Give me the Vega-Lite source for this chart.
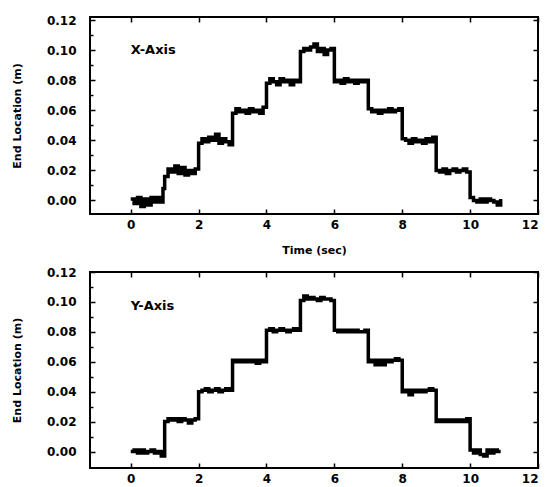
{
  "$schema": "https://vega.github.io/schema/vega-lite/v6.json",
  "padding": {"top": 13, "left": 10, "right": 5, "bottom": 0},
  "background": "white",
  "config": {
    "font": "DejaVu Sans",
    "view": {"stroke": "black", "strokeWidth": 2},
    "axis": {
      "grid": false, "domain": false,
      "labelFont": "DejaVu Sans", "labelFontWeight": "bold", "labelFontSize": 12, "labelColor": "black",
      "titleFont": "DejaVu Sans", "titleFontWeight": "bold", "titleFontSize": 11, "titleColor": "black",
      "tickColor": "black", "tickWidth": 1.5
    }
  },
  "datasets": {
    "series": [
      {"p":"X","t":0.0,"v":0.001},{"p":"X","t":0.1,"v":-0.002},{"p":"X","t":0.2,"v":0.002},{"p":"X","t":0.3,"v":-0.004},{"p":"X","t":0.4,"v":0.001},{"p":"X","t":0.5,"v":-0.003},{"p":"X","t":0.6,"v":0.002},{"p":"X","t":0.7,"v":-0.001},{"p":"X","t":0.8,"v":0.002},{"p":"X","t":0.9,"v":-0.001},{"p":"X","t":0.95,"v":0.008},
      {"p":"X","t":1.0,"v":0.016},{"p":"X","t":1.1,"v":0.021},{"p":"X","t":1.2,"v":0.019},{"p":"X","t":1.3,"v":0.023},{"p":"X","t":1.4,"v":0.018},{"p":"X","t":1.5,"v":0.022},{"p":"X","t":1.6,"v":0.017},{"p":"X","t":1.7,"v":0.020},{"p":"X","t":1.8,"v":0.018},{"p":"X","t":1.9,"v":0.021},
      {"p":"X","t":2.0,"v":0.038},{"p":"X","t":2.1,"v":0.041},{"p":"X","t":2.2,"v":0.039},{"p":"X","t":2.3,"v":0.042},{"p":"X","t":2.4,"v":0.040},{"p":"X","t":2.5,"v":0.044},{"p":"X","t":2.6,"v":0.038},{"p":"X","t":2.7,"v":0.041},{"p":"X","t":2.8,"v":0.039},{"p":"X","t":2.9,"v":0.037},
      {"p":"X","t":3.0,"v":0.058},{"p":"X","t":3.1,"v":0.061},{"p":"X","t":3.2,"v":0.059},{"p":"X","t":3.3,"v":0.060},{"p":"X","t":3.4,"v":0.058},{"p":"X","t":3.5,"v":0.061},{"p":"X","t":3.6,"v":0.059},{"p":"X","t":3.7,"v":0.060},{"p":"X","t":3.8,"v":0.058},{"p":"X","t":3.9,"v":0.062},
      {"p":"X","t":4.0,"v":0.078},{"p":"X","t":4.1,"v":0.081},{"p":"X","t":4.2,"v":0.079},{"p":"X","t":4.3,"v":0.077},{"p":"X","t":4.4,"v":0.081},{"p":"X","t":4.5,"v":0.079},{"p":"X","t":4.6,"v":0.080},{"p":"X","t":4.7,"v":0.077},{"p":"X","t":4.8,"v":0.080},{"p":"X","t":4.9,"v":0.079},
      {"p":"X","t":5.0,"v":0.099},{"p":"X","t":5.1,"v":0.101},{"p":"X","t":5.2,"v":0.100},{"p":"X","t":5.3,"v":0.102},{"p":"X","t":5.4,"v":0.104},{"p":"X","t":5.5,"v":0.099},{"p":"X","t":5.6,"v":0.101},{"p":"X","t":5.7,"v":0.097},{"p":"X","t":5.8,"v":0.100},{"p":"X","t":5.9,"v":0.101},
      {"p":"X","t":6.0,"v":0.079},{"p":"X","t":6.1,"v":0.080},{"p":"X","t":6.2,"v":0.078},{"p":"X","t":6.3,"v":0.081},{"p":"X","t":6.4,"v":0.079},{"p":"X","t":6.5,"v":0.080},{"p":"X","t":6.6,"v":0.078},{"p":"X","t":6.7,"v":0.080},{"p":"X","t":6.8,"v":0.079},{"p":"X","t":6.9,"v":0.080},
      {"p":"X","t":7.0,"v":0.061},{"p":"X","t":7.1,"v":0.059},{"p":"X","t":7.2,"v":0.060},{"p":"X","t":7.3,"v":0.058},{"p":"X","t":7.4,"v":0.060},{"p":"X","t":7.5,"v":0.059},{"p":"X","t":7.6,"v":0.061},{"p":"X","t":7.7,"v":0.059},{"p":"X","t":7.8,"v":0.060},{"p":"X","t":7.9,"v":0.061},
      {"p":"X","t":8.0,"v":0.041},{"p":"X","t":8.1,"v":0.040},{"p":"X","t":8.2,"v":0.038},{"p":"X","t":8.3,"v":0.041},{"p":"X","t":8.4,"v":0.039},{"p":"X","t":8.5,"v":0.040},{"p":"X","t":8.6,"v":0.038},{"p":"X","t":8.7,"v":0.041},{"p":"X","t":8.8,"v":0.039},{"p":"X","t":8.9,"v":0.042},
      {"p":"X","t":9.0,"v":0.020},{"p":"X","t":9.1,"v":0.019},{"p":"X","t":9.2,"v":0.021},{"p":"X","t":9.3,"v":0.018},{"p":"X","t":9.4,"v":0.020},{"p":"X","t":9.5,"v":0.021},{"p":"X","t":9.6,"v":0.019},{"p":"X","t":9.7,"v":0.020},{"p":"X","t":9.8,"v":0.021},{"p":"X","t":9.9,"v":0.019},
      {"p":"X","t":10.0,"v":0.002},{"p":"X","t":10.1,"v":0.000},{"p":"X","t":10.2,"v":-0.001},{"p":"X","t":10.3,"v":0.001},{"p":"X","t":10.4,"v":-0.001},{"p":"X","t":10.5,"v":0.001},{"p":"X","t":10.6,"v":0.000},{"p":"X","t":10.7,"v":-0.001},{"p":"X","t":10.8,"v":-0.003},{"p":"X","t":10.9,"v":0.001},

      {"p":"Y","t":0.0,"v":0.000},{"p":"Y","t":0.1,"v":0.001},{"p":"Y","t":0.2,"v":-0.001},{"p":"Y","t":0.3,"v":0.001},{"p":"Y","t":0.4,"v":-0.001},{"p":"Y","t":0.5,"v":0.000},{"p":"Y","t":0.6,"v":0.001},{"p":"Y","t":0.7,"v":-0.001},{"p":"Y","t":0.8,"v":0.000},{"p":"Y","t":0.9,"v":-0.003},
      {"p":"Y","t":1.0,"v":0.020},{"p":"Y","t":1.1,"v":0.022},{"p":"Y","t":1.2,"v":0.021},{"p":"Y","t":1.3,"v":0.022},{"p":"Y","t":1.4,"v":0.020},{"p":"Y","t":1.5,"v":0.022},{"p":"Y","t":1.6,"v":0.021},{"p":"Y","t":1.7,"v":0.019},{"p":"Y","t":1.8,"v":0.021},{"p":"Y","t":1.9,"v":0.022},
      {"p":"Y","t":2.0,"v":0.040},{"p":"Y","t":2.1,"v":0.041},{"p":"Y","t":2.2,"v":0.042},{"p":"Y","t":2.3,"v":0.040},{"p":"Y","t":2.4,"v":0.041},{"p":"Y","t":2.5,"v":0.042},{"p":"Y","t":2.6,"v":0.040},{"p":"Y","t":2.7,"v":0.041},{"p":"Y","t":2.8,"v":0.042},{"p":"Y","t":2.9,"v":0.041},
      {"p":"Y","t":3.0,"v":0.061},{"p":"Y","t":3.1,"v":0.060},{"p":"Y","t":3.2,"v":0.061},{"p":"Y","t":3.3,"v":0.060},{"p":"Y","t":3.4,"v":0.061},{"p":"Y","t":3.5,"v":0.060},{"p":"Y","t":3.6,"v":0.061},{"p":"Y","t":3.7,"v":0.059},{"p":"Y","t":3.8,"v":0.061},{"p":"Y","t":3.9,"v":0.060},
      {"p":"Y","t":4.0,"v":0.081},{"p":"Y","t":4.1,"v":0.082},{"p":"Y","t":4.2,"v":0.080},{"p":"Y","t":4.3,"v":0.081},{"p":"Y","t":4.4,"v":0.082},{"p":"Y","t":4.5,"v":0.081},{"p":"Y","t":4.6,"v":0.080},{"p":"Y","t":4.7,"v":0.081},{"p":"Y","t":4.8,"v":0.082},{"p":"Y","t":4.9,"v":0.081},
      {"p":"Y","t":5.0,"v":0.101},{"p":"Y","t":5.1,"v":0.104},{"p":"Y","t":5.2,"v":0.102},{"p":"Y","t":5.3,"v":0.103},{"p":"Y","t":5.4,"v":0.102},{"p":"Y","t":5.5,"v":0.101},{"p":"Y","t":5.6,"v":0.103},{"p":"Y","t":5.7,"v":0.102},{"p":"Y","t":5.8,"v":0.102},{"p":"Y","t":5.9,"v":0.101},
      {"p":"Y","t":6.0,"v":0.081},{"p":"Y","t":6.1,"v":0.080},{"p":"Y","t":6.2,"v":0.081},{"p":"Y","t":6.3,"v":0.080},{"p":"Y","t":6.4,"v":0.081},{"p":"Y","t":6.5,"v":0.080},{"p":"Y","t":6.6,"v":0.081},{"p":"Y","t":6.7,"v":0.080},{"p":"Y","t":6.8,"v":0.080},{"p":"Y","t":6.9,"v":0.081},
      {"p":"Y","t":7.0,"v":0.060},{"p":"Y","t":7.1,"v":0.061},{"p":"Y","t":7.2,"v":0.058},{"p":"Y","t":7.3,"v":0.061},{"p":"Y","t":7.4,"v":0.058},{"p":"Y","t":7.5,"v":0.061},{"p":"Y","t":7.6,"v":0.060},{"p":"Y","t":7.7,"v":0.061},{"p":"Y","t":7.8,"v":0.062},{"p":"Y","t":7.9,"v":0.061},
      {"p":"Y","t":8.0,"v":0.040},{"p":"Y","t":8.1,"v":0.041},{"p":"Y","t":8.2,"v":0.038},{"p":"Y","t":8.3,"v":0.041},{"p":"Y","t":8.4,"v":0.040},{"p":"Y","t":8.5,"v":0.041},{"p":"Y","t":8.6,"v":0.040},{"p":"Y","t":8.7,"v":0.041},{"p":"Y","t":8.8,"v":0.042},{"p":"Y","t":8.9,"v":0.041},
      {"p":"Y","t":9.0,"v":0.020},{"p":"Y","t":9.1,"v":0.021},{"p":"Y","t":9.2,"v":0.020},{"p":"Y","t":9.3,"v":0.021},{"p":"Y","t":9.4,"v":0.020},{"p":"Y","t":9.5,"v":0.021},{"p":"Y","t":9.6,"v":0.020},{"p":"Y","t":9.7,"v":0.021},{"p":"Y","t":9.8,"v":0.020},{"p":"Y","t":9.9,"v":0.022},
      {"p":"Y","t":10.0,"v":0.001},{"p":"Y","t":10.1,"v":-0.001},{"p":"Y","t":10.2,"v":0.001},{"p":"Y","t":10.3,"v":-0.002},{"p":"Y","t":10.4,"v":-0.003},{"p":"Y","t":10.5,"v":0.001},{"p":"Y","t":10.6,"v":-0.001},{"p":"Y","t":10.7,"v":0.001},{"p":"Y","t":10.8,"v":0.000},{"p":"Y","t":10.9,"v":0.000}
    ]
  },
  "vconcat": [
    {
      "width": 448, "height": 197,
      "layer": [
        {
          "data": {"name": "series"},
          "transform": [{"filter": "datum.p === 'X'"}],
          "mark": {"type": "line", "color": "black", "strokeWidth": 3.5, "interpolate": "step-after"},
          "encoding": {
            "x": {"field": "t", "type": "quantitative", "scale": {"domain": [-1.2, 12], "nice": false, "zero": false},
                  "axis": {"orient": "bottom", "values": [0, 2, 4, 6, 8, 10, 12], "tickSize": -5, "labelPadding": 10, "title": "Time (sec)", "titlePadding": 14}},
            "y": {"field": "v", "type": "quantitative", "scale": {"domain": [-0.009, 0.122], "nice": false, "zero": false},
                  "axis": {"orient": "left", "values": [0, 0.01, 0.02, 0.03, 0.04, 0.05, 0.06, 0.07, 0.08, 0.09, 0.1, 0.11, 0.12],
                           "labelExpr": "round(datum.value*100) % 2 === 0 ? format(datum.value, '.2f') : ''",
                           "tickSize": {"condition": {"test": "round(datum.value*100) % 2 === 0", "value": -5}, "value": -3},
                           "labelPadding": 19, "title": "End Location (m)", "titlePadding": 24}}
          }
        },
        {
          "data": {"values": [{"label": "X-Axis", "t": 0, "v": 0.1}]},
          "mark": {"type": "text", "align": "left", "baseline": "middle", "fontWeight": "bold", "fontSize": 13, "font": "DejaVu Sans", "color": "black"},
          "encoding": {
            "x": {"field": "t", "type": "quantitative", "axis": {"orient": "top", "values": [0, 2, 4, 6, 8, 10, 12], "labels": false, "tickSize": -5, "title": null}},
            "y": {"field": "v", "type": "quantitative", "axis": {"orient": "right", "values": [0, 0.02, 0.04, 0.06, 0.08, 0.1, 0.12], "labels": false, "tickSize": -5, "title": null}},
            "text": {"field": "label"}
          }
        }
      ],
      "resolve": {"axis": {"x": "independent", "y": "independent"}}
    },
    {
      "width": 448, "height": 196,
      "layer": [
        {
          "data": {"name": "series"},
          "transform": [{"filter": "datum.p === 'Y'"}],
          "mark": {"type": "line", "color": "black", "strokeWidth": 3.5, "interpolate": "step-after"},
          "encoding": {
            "x": {"field": "t", "type": "quantitative", "scale": {"domain": [-1.2, 12], "nice": false, "zero": false},
                  "axis": {"orient": "bottom", "values": [0, 2, 4, 6, 8, 10, 12], "tickSize": -5, "labelPadding": 10, "title": null}},
            "y": {"field": "v", "type": "quantitative", "scale": {"domain": [-0.011, 0.12], "nice": false, "zero": false},
                  "axis": {"orient": "left", "values": [0, 0.01, 0.02, 0.03, 0.04, 0.05, 0.06, 0.07, 0.08, 0.09, 0.1, 0.11, 0.12],
                           "labelExpr": "round(datum.value*100) % 2 === 0 ? format(datum.value, '.2f') : ''",
                           "tickSize": {"condition": {"test": "round(datum.value*100) % 2 === 0", "value": -5}, "value": -3},
                           "labelPadding": 19, "title": "End Location (m)", "titlePadding": 24}}
          }
        },
        {
          "data": {"values": [{"label": "Y-Axis", "t": 0, "v": 0.097}]},
          "mark": {"type": "text", "align": "left", "baseline": "middle", "fontWeight": "bold", "fontSize": 13, "font": "DejaVu Sans", "color": "black"},
          "encoding": {
            "x": {"field": "t", "type": "quantitative", "axis": {"orient": "top", "values": [0, 2, 4, 6, 8, 10, 12], "labels": false, "tickSize": -5, "title": null}},
            "y": {"field": "v", "type": "quantitative", "axis": {"orient": "right", "values": [0, 0.02, 0.04, 0.06, 0.08, 0.1, 0.12], "labels": false, "tickSize": -5, "title": null}},
            "text": {"field": "label"}
          }
        }
      ],
      "resolve": {"axis": {"x": "independent", "y": "independent"}}
    }
  ],
  "spacing": 9
}
